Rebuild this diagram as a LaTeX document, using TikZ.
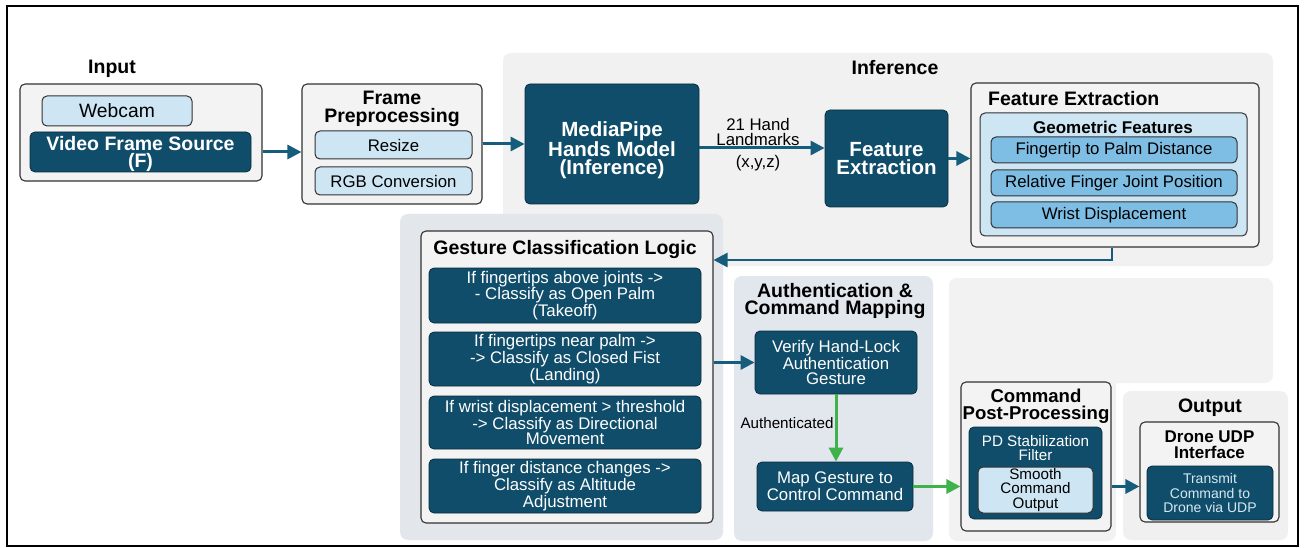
\documentclass[tikz,border=0pt]{standalone}
\usepackage{fontspec}
\setmainfont{Liberation Sans}
\usetikzlibrary{arrows.meta,calc}
\definecolor{dteal}{RGB}{16,77,106}
\definecolor{dborder}{RGB}{10,45,62}
\definecolor{ateal}{RGB}{22,92,124}
\definecolor{agreen}{RGB}{64,178,74}
\definecolor{lblue}{RGB}{206,230,244}
\definecolor{mblue}{RGB}{126,190,228}
\definecolor{boxfill}{RGB}{243,243,243}
\definecolor{boxline}{RGB}{50,50,50}
\definecolor{infbg}{RGB}{241,241,241}
\definecolor{gestbg}{RGB}{227,231,236}
\definecolor{authbg}{RGB}{226,230,237}
\definecolor{postbg}{RGB}{242,242,242}
\definecolor{outbg}{RGB}{240,240,240}
\definecolor{lighttext}{RGB}{214,232,242}
\newcommand\xTitle{\fontsize{19.5}{17.5}\selectfont\bfseries}
\newcommand\xTitleB{\fontsize{18.6}{17.5}\selectfont\bfseries}
\newcommand\xHuge{\fontsize{20.5}{18}\selectfont\bfseries}
\newcommand\xSub{\fontsize{17}{16}\selectfont\bfseries}
\newcommand\xBody{\fontsize{16.8}{15.4}\selectfont}
\newcommand\xBig{\fontsize{19.3}{20}\selectfont}
\newcommand\xSmall{\fontsize{15.2}{14.6}\selectfont}
\newcommand\xTiny{\fontsize{14}{14.7}\selectfont}
\begin{document}
\begin{tikzpicture}[x=1pt,y=-1pt,
  sz/.style 2 args={minimum width=#1pt, minimum height=#2pt},
  graybox/.style={draw=boxline, fill=boxfill, line width=1.1pt, rounded corners=5pt, inner sep=0pt},
  dbox/.style={draw=dborder, fill=dteal, text=white, line width=0.8pt, rounded corners=5pt, inner sep=0pt, align=center},
  lbox/.style={draw=boxline, fill=lblue, line width=1pt, rounded corners=5pt, inner sep=0pt, align=center},
  mbox/.style={draw=boxline, fill=mblue, line width=1pt, rounded corners=5pt, inner sep=0pt, align=center},
  ttl/.style={font=\xTitle, align=center, inner sep=0pt},
  lbl/.style={align=center, inner sep=0pt},
  flow/.style={draw=ateal, line width=3pt, -{Triangle[length=14pt,width=14pt]}},
  gflow/.style={draw=agreen, line width=3pt, -{Triangle[length=14pt,width=14pt]}}
]
\useasboundingbox (0,0) rectangle (1304,548);
\fill[white] (0,0) rectangle (1304,548);

% background regions
\fill[infbg, rounded corners=8pt] (503,53) rectangle (1273,266);
\fill[gestbg, rounded corners=8pt] (400,214) rectangle (723,540);
\fill[authbg, rounded corners=8pt] (734,276) rectangle (933,541);
\fill[postbg, rounded corners=8pt] (949,278) rectangle (1273,383);
\fill[postbg, rounded corners=8pt] (949,278) rectangle (1116,541);
\fill[outbg, rounded corners=8pt] (1123,391) rectangle (1288,540);

% outer frame
\draw[line width=1.6pt] (7,6) rectangle (1298,546);

% Input
\node[ttl] (tin) at (112,69) {Input};
\node[graybox, sz={242}{97}] (inbox) at (141,132.5) {};
\node[lbox, sz={150}{30}, font=\xBig] (webcam) at (117,111) {Webcam};
\node[dbox, sz={221}{40}] (vfs) at (140.5,152) {};
\node[lbl, font=\xTitle, text=white] (tvfs) at (140.5,154) {Video Frame Source\\(F)};

% Frame preprocessing
\node[graybox, sz={180}{120}] (prebox) at (392,144) {};
\node[ttl] (tpre) at (392,109) {Frame\\Preprocessing};
\node[lbox, sz={157}{28}, font=\xBody] (resize) at (393.5,145) {Resize};
\node[lbox, sz={157}{28}, font=\xBody] (rgb) at (393.5,181) {RGB Conversion};

% Inference
\node[ttl] (tinf) at (895,68) {Inference};
\node[dbox, sz={174}{120}] (mp) at (612,144) {};
\node[lbl, font=\xHuge, text=white] (tmp) at (612,150) {MediaPipe\\Hands Model\\(Inference)};
\node[dbox, sz={123}{97}, font=\xHuge] (fe) at (886.5,158.5) {Feature\\Extraction};
\node[lbl, font=\xBody] (lm1) at (758,132) {21 Hand\\Landmarks};
\node[lbl, font=\xBody] (lm2) at (758,163) {(x,y,z)};
\coordinate (lmy) at (700,148);

% Feature extraction detail
\node[graybox, sz={288}{164}] (feout) at (1115,165) {};
\node[ttl, anchor=west] (tfe) at (988,99) {Feature Extraction};
\node[lbox, sz={267}{123}] (geo) at (1113.5,174.5) {};
\node[lbl, font=\xSub] (tgeo) at (1113,127) {Geometric Features};
\node[mbox, sz={246}{26}, font=\xBody] (f1) at (1114,150) {Fingertip to Palm Distance};
\node[mbox, sz={246}{26}, font=\xBody] (f2) at (1114,183) {Relative Finger Joint Position};
\node[mbox, sz={246}{26}, font=\xBody] (f3) at (1114,215) {Wrist Displacement};

% Gesture classification
\node[graybox, sz={292}{292}] (gbox) at (567,377) {};
\node[ttl] (tg) at (565,250) {Gesture Classification Logic};
\node[dbox, sz={272}{55}, font=\xBody] (g1) at (565,295.5) {If fingertips above joints ->\\- Classify as Open Palm\\(Takeoff)};
\node[dbox, sz={272}{54}, font=\xBody] (g2) at (565,359) {If fingertips near palm ->\\-> Classify as Closed Fist\\(Landing)};
\node[dbox, sz={272}{53}, font=\xBody] (g3) at (565,422.5) {If wrist displacement > threshold\\-> Classify as Directional\\Movement};
\node[dbox, sz={272}{54}, font=\xBody] (g4) at (565,486) {If finger distance changes ->\\Classify as Altitude\\Adjustment};

% Authentication
\node[ttl] (ta) at (835,301) {Authentication \&\\Command Mapping};
\node[dbox, sz={162}{63}, font=\xBody] (verify) at (836,362.5) {Verify Hand-Lock\\Authentication\\Gesture};
\node[dbox, sz={156}{49}, font=\xBody] (map) at (835,486.5) {Map Gesture to\\Control Command};
\node[lbl, font=\xSmall] (authd) at (787,423) {Authenticated};

% Command post-processing
\node[graybox, sz={150}{149}] (cpp) at (1036,456.5) {};
\node[lbl, font=\xTitleB] (tcpp) at (1036,406) {Command\\Post-Processing};
\node[dbox, sz={133}{92}] (pd) at (1035.5,473) {};
\node[lbl, font=\xSmall, text=white] (tpd) at (1035.5,448) {PD Stabilization\\Filter};
\node[lbox, sz={115}{46}, font=\xSmall] (smooth) at (1035.5,490) {Smooth\\Command\\Output};

% Output
\node[ttl] (tout) at (1210,408) {Output};
\node[graybox, sz={139}{100}] (drone) at (1209.5,472) {};
\node[lbl, font=\xSub] (tdr) at (1209.5,445) {Drone UDP\\Interface};
\node[dbox, sz={126}{54}, font=\xTiny, text=lighttext] (tx) at (1210,493) {Transmit\\Command to\\Drone via UDP};

% connectors
\draw[flow] (inbox.east |- vfs) -- (prebox.west |- vfs);
\draw[flow] (prebox.east) -- (mp.west);
\draw[flow] (mp.east |- lmy) -- (fe.west |- lmy);
\draw[flow] (fe.east) -- (fe.east -| feout.west);
\coordinate (bend) at (1112,260);
\draw[flow, line width=2.6pt] (feout.south -| bend) |- (gbox.east |- bend);
\draw[flow] (gbox.east |- verify) -- (verify.west);
\draw[gflow] (verify.south) -- (verify.south |- map.north);
\draw[gflow] (map.east) -- (map.east -| cpp.west);
\draw[flow] (cpp.east |- map) -- (drone.west |- map);
\end{tikzpicture}
\end{document}
